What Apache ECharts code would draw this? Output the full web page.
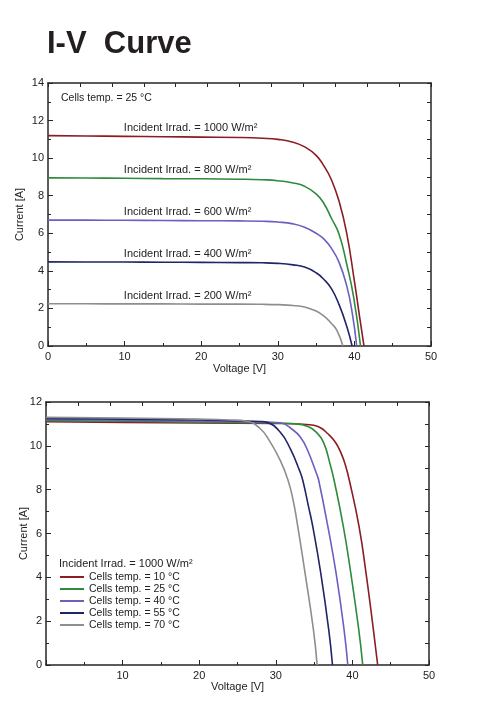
<!DOCTYPE html>
<html><head><meta charset="utf-8">
<script src="https://cdn.jsdelivr.net/npm/echarts@6/dist/echarts.min.js"></script>
<style>html,body{margin:0;padding:0;background:#fff}#c{width:488px;height:715px}</style>
</head><body><div id="c"></div>
<script>
// ---------- Top chart: irradiance curves (Cells temp = 25 °C) ----------
const irradNames = ['Incident Irrad. = 1000 W/m²','Incident Irrad. = 800 W/m²','Incident Irrad. = 600 W/m²','Incident Irrad. = 400 W/m²','Incident Irrad. = 200 W/m²'];
const irr1000V = [0,5,10,15,20,25,28,30,32,33.5,35,36,37,38,39,40,40.7,41.25];
const irr1000I = [11.2,11.18,11.16,11.14,11.12,11.1,11.06,11.0,10.85,10.6,10.15,9.6,8.85,7.7,6.0,3.45,1.5,0];
const irr800V  = [0,5,10,15,20,25,28,30,32,33.5,35,36,37,38,39,39.9,40.8];
const irr800I  = [8.95,8.94,8.93,8.91,8.9,8.88,8.85,8.8,8.68,8.5,8.1,7.6,6.8,5.95,4.35,2.6,0];
const irr600V  = [0,5,10,15,20,25,28,30,32,33.5,35,36,37,38,39,39.7,40.3];
const irr600I  = [6.7,6.7,6.69,6.68,6.67,6.66,6.64,6.6,6.5,6.32,6.0,5.7,5.2,4.45,3.2,1.8,0];
const irr400V  = [0,5,10,15,20,25,28,30,32,33.5,35,36,37,38,39,39.7];
const irr400I  = [4.48,4.47,4.47,4.46,4.45,4.44,4.43,4.4,4.32,4.2,3.9,3.55,3.05,2.2,1.05,0];
const irr200V  = [0,5,10,15,20,25,28,30,32,33.5,35,36,37,37.7,38.5];
const irr200I  = [2.25,2.25,2.24,2.24,2.23,2.23,2.22,2.2,2.16,2.08,1.86,1.6,1.2,0.85,0];
const topNote = 'Cells temp. = 25 °C';

// ---------- Bottom chart: temperature curves (1000 W/m²) ----------
const tempNames = ['Cells temp. = 10 °C','Cells temp. = 25 °C','Cells temp. = 40 °C','Cells temp. = 55 °C','Cells temp. = 70 °C'];
const t10V = [0,10,20,30,34,35.5,36.8,37.8,38.6,39.1,39.6,40.87,41.78,42.74,43.3];
const t10I = [11.1,11.07,11.04,11.02,10.97,10.88,10.55,10.15,9.6,9.1,8.43,6.31,4.19,1.61,0];
const t25V = [0,10,20,28,32.7,34.2,35.2,36.2,37.1,37.61,38.82,39.79,40.83,41.35];
const t25I = [11.15,11.12,11.08,11.05,11.0,10.88,10.65,10.18,9.15,8.43,6.31,4.19,1.61,0];
const t40V = [0,10,20,26,29,30.56,32.3,33.2,34.05,35.35,35.6,36.8,37.87,38.91,39.4];
const t40I = [11.2,11.17,11.13,11.1,11.08,11.05,10.71,10.4,9.88,8.7,8.43,6.31,4.19,1.61,0];
const t55V = [0,10,20,25,28,28.83,30.56,31.87,33.17,33.52,34.26,34.83,35.87,36.91,37.4];
const t55I = [11.25,11.22,11.18,11.14,11.11,11.07,10.63,9.88,8.81,8.43,7.25,6.31,4.19,1.61,0];
const t70V = [0,10,20,24,26.2,27.95,29.26,30.56,31.6,32.3,32.87,33.82,34.91,35.4];
const t70I = [11.3,11.27,11.22,11.18,11.12,10.79,10.18,9.35,8.43,7.45,6.31,4.19,1.61,0];
const bottomNote = 'Incident Irrad. = 1000 W/m²';

const colors = ['#8a1c24','#2f8a3c','#6b5fc0','#1f2566','#8e8e8e'];
const txt = '#222';
const font = '"Liberation Sans", Arial, sans-serif';

const zip = (v, i) => v.map((x, k) => [x, i[k]]);
const topSets = [[irr1000V,irr1000I],[irr800V,irr800I],[irr600V,irr600I],[irr400V,irr400I],[irr200V,irr200I]];
const botSets = [[t10V,t10I],[t25V,t25I],[t40V,t40I],[t55V,t55I],[t70V,t70I]];

const frame = {show:true, onZero:false, lineStyle:{color:'#262626', width:1.5}};
function mainX(grid, nameGap, hideZero){
  return {gridIndex:grid, type:'value', min:0, max:50, interval:10, position:'bottom',
    axisLine:frame, splitLine:{show:false},
    axisTick:{show:true, inside:true, length:5, lineStyle:{color:'#262626'}},
    minorTick:{show:true, splitNumber:2, length:3, lineStyle:{color:'#262626'}},
    axisLabel:{margin:5, fontSize:11, color:txt, fontFamily:font,
      formatter: v => (hideZero && v === 0) ? '' : String(v)},
    name:'Voltage [V]', nameLocation:'middle', nameGap:nameGap,
    nameTextStyle:{fontSize:11, color:txt, fontFamily:font}};
}
function topX(grid){
  return {gridIndex:grid, type:'value', min:0, max:12, interval:1, position:'top',
    axisLine:frame, splitLine:{show:false}, axisLabel:{show:false},
    axisTick:{show:true, inside:true, length:4, lineStyle:{color:'#262626'}}};
}
function mainY(grid, max, nameGap){
  return {gridIndex:grid, type:'value', min:0, max:max, interval:2, position:'left',
    axisLine:frame, splitLine:{show:false},
    axisTick:{show:true, inside:true, length:5, lineStyle:{color:'#262626'}},
    minorTick:{show:true, splitNumber:2, length:3, lineStyle:{color:'#262626'}},
    axisLabel:{margin:4, fontSize:11, color:txt, fontFamily:font},
    name:'Current [A]', nameLocation:'middle', nameGap:nameGap, nameMoveOverlap:false,
    nameTextStyle:{fontSize:11, color:txt, fontFamily:font}};
}
function rightY(grid, max){
  return {gridIndex:grid, type:'value', min:0, max:max, interval:1, position:'right',
    axisLine:frame, splitLine:{show:false}, axisLabel:{show:false},
    axisTick:{show:true, inside:true, length:4, lineStyle:{color:'#262626'}}};
}

const series = [];
topSets.forEach((s, k) => {
  series.push({name:irradNames[k], type:'line', xAxisIndex:0, yAxisIndex:0,
    data:zip(s[0], s[1]), showSymbol:false, smooth:0.5, animation:false,
    lineStyle:{color:colors[k], width:1.6}, itemStyle:{color:colors[k]},
    markPoint:{symbol:'circle', symbolSize:0, silent:true, animation:false,
      data:[{coord:[9.9, s[1][0]]}],
      label:{show:true, position:'right', distance:0, offset:[0,-8],
        formatter:irradNames[k], color:txt, fontSize:11, fontFamily:font}}});
});
botSets.forEach((s, k) => {
  series.push({name:tempNames[k], type:'line', xAxisIndex:2, yAxisIndex:2,
    data:zip(s[0], s[1]), showSymbol:false, smooth:0.5, animation:false,
    lineStyle:{color:colors[k], width:1.6}, itemStyle:{color:colors[k]}});
});

const chart = echarts.init(document.getElementById('c'), null, {renderer:'canvas'});
chart.setOption({
  animation:false,
  backgroundColor:'#fff',
  title:[
    {text:'I-V  Curve', left:42, top:24, textStyle:{fontSize:31, fontWeight:'bold', color:'#231f20', fontFamily:font}},
    {text:topNote, left:61, top:93, textStyle:{fontSize:10.5, fontWeight:'normal', color:txt, fontFamily:font}, padding:0},
    {text:bottomNote, left:59, top:558, textStyle:{fontSize:11, fontWeight:'normal', color:txt, fontFamily:font}, padding:0}
  ],
  grid:[
    {left:48, right:57, top:83, bottom:369},
    {left:46, right:59, top:402, bottom:50}
  ],
  xAxis:[mainX(0,17,false), topX(0), mainX(1,15,true), topX(1)],
  yAxis:[mainY(0,14,23), rightY(0,14), mainY(1,12,17), rightY(1,12)],
  legend:{data:tempNames, orient:'vertical', left:60, top:571, padding:0,
    itemWidth:24, itemHeight:2, itemGap:0, icon:'rect',
    textStyle:{fontSize:10.5, color:txt, fontFamily:font, lineHeight:12}},
  series:series
});
</script></body></html>
